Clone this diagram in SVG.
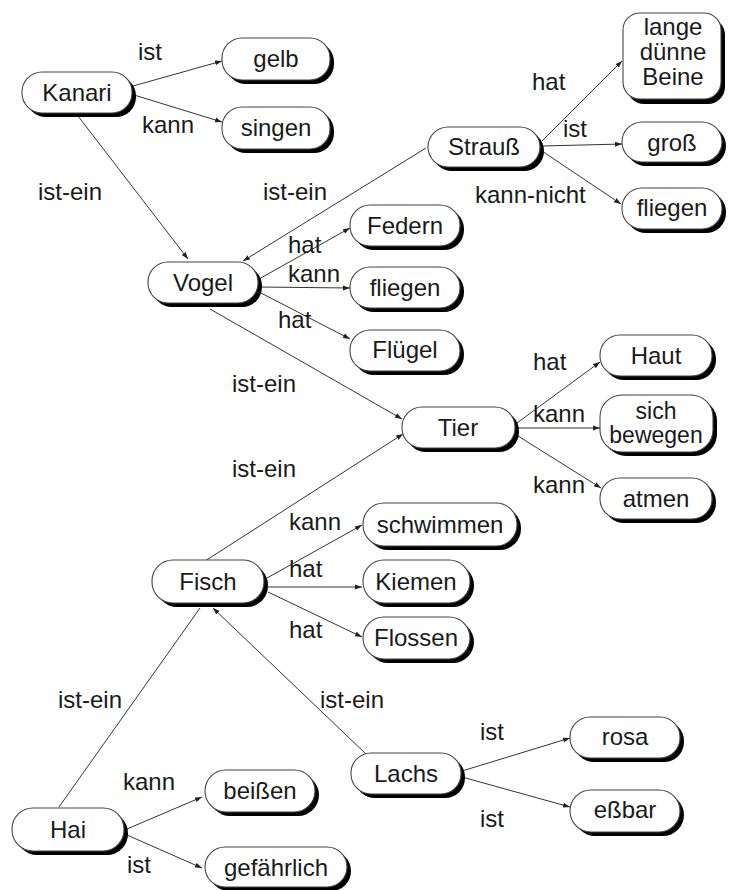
<svg xmlns="http://www.w3.org/2000/svg" width="731" height="890" viewBox="0 0 731 890">
<defs>
<marker id="ah" markerWidth="7" markerHeight="6" refX="7" refY="3" orient="auto" markerUnits="userSpaceOnUse">
<path d="M0,0.5 L7,3 L0,5.5 z" fill="#222"/>
</marker>
</defs>
<style>
text{font-family:"Liberation Sans",Arial,sans-serif;font-size:24px;fill:#1a1a1a}
.n text{text-anchor:middle}
.sh{fill:#000}
.bx{fill:#fff;stroke:#444;stroke-width:1.1}
.e line{stroke:#333;stroke-width:1}
.a{marker-end:url(#ah)}
.tight{font-size:23px}
</style>
<rect width="731" height="890" fill="#fff"/>
<g class="e" id="connectors">
<line class="a" x1="133" y1="86" x2="222" y2="61"/>
<line class="a" x1="134" y1="95" x2="222" y2="122"/>
<line class="a" x1="78" y1="116" x2="188" y2="259"/>
<line class="a" x1="426" y1="148" x2="243" y2="261"/>
<line class="a" x1="259" y1="279" x2="350" y2="228"/>
<line class="a" x1="260" y1="287" x2="350" y2="288"/>
<line class="a" x1="261" y1="293" x2="350" y2="339"/>
<line class="a" x1="210" y1="309" x2="402" y2="419"/>
<line class="a" x1="205" y1="561" x2="403" y2="434"/>
<line class="a" x1="542" y1="141" x2="622" y2="61"/>
<line class="a" x1="542" y1="146" x2="622" y2="144"/>
<line class="a" x1="542" y1="151" x2="621" y2="204"/>
<line class="a" x1="517" y1="423" x2="600" y2="362"/>
<line class="a" x1="518" y1="428" x2="600" y2="428"/>
<line class="a" x1="518" y1="436" x2="601" y2="488"/>
<line class="a" x1="267" y1="578" x2="362" y2="525"/>
<line class="a" x1="268" y1="587" x2="362" y2="587"/>
<line class="a" x1="268" y1="592" x2="362" y2="637"/>
<line x1="59" y1="807" x2="200" y2="608"/>
<line class="a" x1="367" y1="755" x2="213" y2="608"/>
<line class="a" x1="462" y1="771" x2="570" y2="738"/>
<line class="a" x1="462" y1="777" x2="570" y2="807"/>
<line class="a" x1="127" y1="829" x2="202" y2="797"/>
<line class="a" x1="127" y1="835" x2="202" y2="868"/>
</g>
<g id="edge-labels">
<text x="138" y="60">ist</text>
<text x="142" y="133">kann</text>
<text x="38" y="200">ist-ein</text>
<text x="263" y="200">ist-ein</text>
<text x="288" y="253">hat</text>
<text x="288" y="282">kann</text>
<text x="278" y="328">hat</text>
<text x="232" y="392">ist-ein</text>
<text x="532" y="90">hat</text>
<text x="563" y="137">ist</text>
<text x="475" y="203">kann-nicht</text>
<text x="533" y="370">hat</text>
<text x="533" y="422">kann</text>
<text x="533" y="493">kann</text>
<text x="232" y="477">ist-ein</text>
<text x="289" y="530">kann</text>
<text x="289" y="577">hat</text>
<text x="289" y="638">hat</text>
<text x="58" y="708">ist-ein</text>
<text x="320" y="708">ist-ein</text>
<text x="480" y="740">ist</text>
<text x="480" y="827">ist</text>
<text x="123" y="790">kann</text>
<text x="127" y="873">ist</text>
</g>
<g class="n" id="n-kanari"><rect class="sh" x="26" y="76" width="110" height="41" rx="20"/><rect class="bx" x="22" y="72" width="110" height="41" rx="20"/><text x="77" y="101">Kanari</text></g>
<g class="n" id="n-gelb"><rect class="sh" x="226" y="42" width="108" height="42" rx="20"/><rect class="bx" x="222" y="38" width="108" height="42" rx="20"/><text x="276" y="67">gelb</text></g>
<g class="n" id="n-singen"><rect class="sh" x="226" y="111" width="108" height="42" rx="20"/><rect class="bx" x="222" y="107" width="108" height="42" rx="20"/><text x="276" y="136">singen</text></g>
<g class="n" id="n-strauss"><rect class="sh" x="432" y="131" width="112" height="40" rx="20"/><rect class="bx" x="428" y="127" width="112" height="40" rx="20"/><text x="484" y="155">Strauß</text></g>
<g class="n" id="n-beine"><rect class="sh" x="627" y="18" width="98" height="86" rx="17"/><rect class="bx" x="623" y="13" width="98" height="86" rx="17"/><text x="673" y="35">lange</text><text x="673" y="60">dünne</text><text x="673" y="85">Beine</text></g>
<g class="n" id="n-gross"><rect class="sh" x="626" y="126" width="100" height="40" rx="20"/><rect class="bx" x="622" y="122" width="100" height="40" rx="20"/><text x="672" y="151">groß</text></g>
<g class="n" id="n-fliegen2"><rect class="sh" x="626" y="192" width="100" height="41" rx="20"/><rect class="bx" x="622" y="188" width="100" height="41" rx="20"/><text x="672" y="216">fliegen</text></g>
<g class="n" id="n-federn"><rect class="sh" x="354" y="209" width="110" height="41" rx="20"/><rect class="bx" x="350" y="205" width="110" height="41" rx="20"/><text x="405" y="234">Federn</text></g>
<g class="n" id="n-vogel"><rect class="sh" x="152" y="266" width="110" height="41" rx="20"/><rect class="bx" x="148" y="262" width="110" height="41" rx="20"/><text x="203" y="291">Vogel</text></g>
<g class="n" id="n-fliegen1"><rect class="sh" x="354" y="271" width="110" height="41" rx="20"/><rect class="bx" x="350" y="267" width="110" height="41" rx="20"/><text x="405" y="296">fliegen</text></g>
<g class="n" id="n-fluegel"><rect class="sh" x="354" y="334" width="110" height="41" rx="20"/><rect class="bx" x="350" y="330" width="110" height="41" rx="20"/><text x="405" y="358">Flügel</text></g>
<g class="n" id="n-tier"><rect class="sh" x="406" y="411" width="113" height="41" rx="20"/><rect class="bx" x="402" y="407" width="113" height="41" rx="20"/><text x="458" y="436">Tier</text></g>
<g class="n" id="n-haut"><rect class="sh" x="604" y="339" width="112" height="41" rx="20"/><rect class="bx" x="600" y="335" width="112" height="41" rx="20"/><text x="656" y="364">Haut</text></g>
<g class="n" id="n-bewegen"><rect class="sh" x="604" y="399" width="113" height="57" rx="22"/><rect class="bx" x="600" y="395" width="113" height="57" rx="22"/><text class="tight" x="656" y="419">sich</text><text class="tight" x="656" y="443">bewegen</text></g>
<g class="n" id="n-atmen"><rect class="sh" x="604" y="482" width="112" height="41" rx="20"/><rect class="bx" x="600" y="478" width="112" height="41" rx="20"/><text x="656" y="507">atmen</text></g>
<g class="n" id="n-schwimmen"><rect class="sh" x="367" y="507" width="154" height="43" rx="21"/><rect class="bx" x="363" y="503" width="154" height="43" rx="21"/><text x="440" y="533">schwimmen</text></g>
<g class="n" id="n-fisch"><rect class="sh" x="156" y="564" width="112" height="43" rx="21"/><rect class="bx" x="152" y="560" width="112" height="43" rx="21"/><text x="208" y="590">Fisch</text></g>
<g class="n" id="n-kiemen"><rect class="sh" x="367" y="564" width="107" height="43" rx="21"/><rect class="bx" x="363" y="560" width="107" height="43" rx="21"/><text x="416" y="590">Kiemen</text></g>
<g class="n" id="n-flossen"><rect class="sh" x="367" y="621" width="107" height="42" rx="21"/><rect class="bx" x="363" y="617" width="107" height="42" rx="21"/><text x="416" y="646">Flossen</text></g>
<g class="n" id="n-hai"><rect class="sh" x="16" y="812" width="112" height="43" rx="21"/><rect class="bx" x="12" y="808" width="112" height="43" rx="21"/><text x="68" y="838">Hai</text></g>
<g class="n" id="n-beissen"><rect class="sh" x="209" y="774" width="110" height="42" rx="21"/><rect class="bx" x="205" y="770" width="110" height="42" rx="21"/><text x="260" y="799">beißen</text></g>
<g class="n" id="n-gefaehrlich"><rect class="sh" x="209" y="851" width="142" height="40" rx="20"/><rect class="bx" x="205" y="847" width="142" height="40" rx="20"/><text x="276" y="876">gefährlich</text></g>
<g class="n" id="n-lachs"><rect class="sh" x="355" y="757" width="110" height="41" rx="20"/><rect class="bx" x="351" y="753" width="110" height="41" rx="20"/><text x="406" y="782">Lachs</text></g>
<g class="n" id="n-rosa"><rect class="sh" x="574" y="721" width="110" height="41" rx="20"/><rect class="bx" x="570" y="717" width="110" height="41" rx="20"/><text x="625" y="745">rosa</text></g>
<g class="n" id="n-essbar"><rect class="sh" x="574" y="794" width="110" height="42" rx="21"/><rect class="bx" x="570" y="790" width="110" height="42" rx="21"/><text x="625" y="818">eßbar</text></g>
</svg>
